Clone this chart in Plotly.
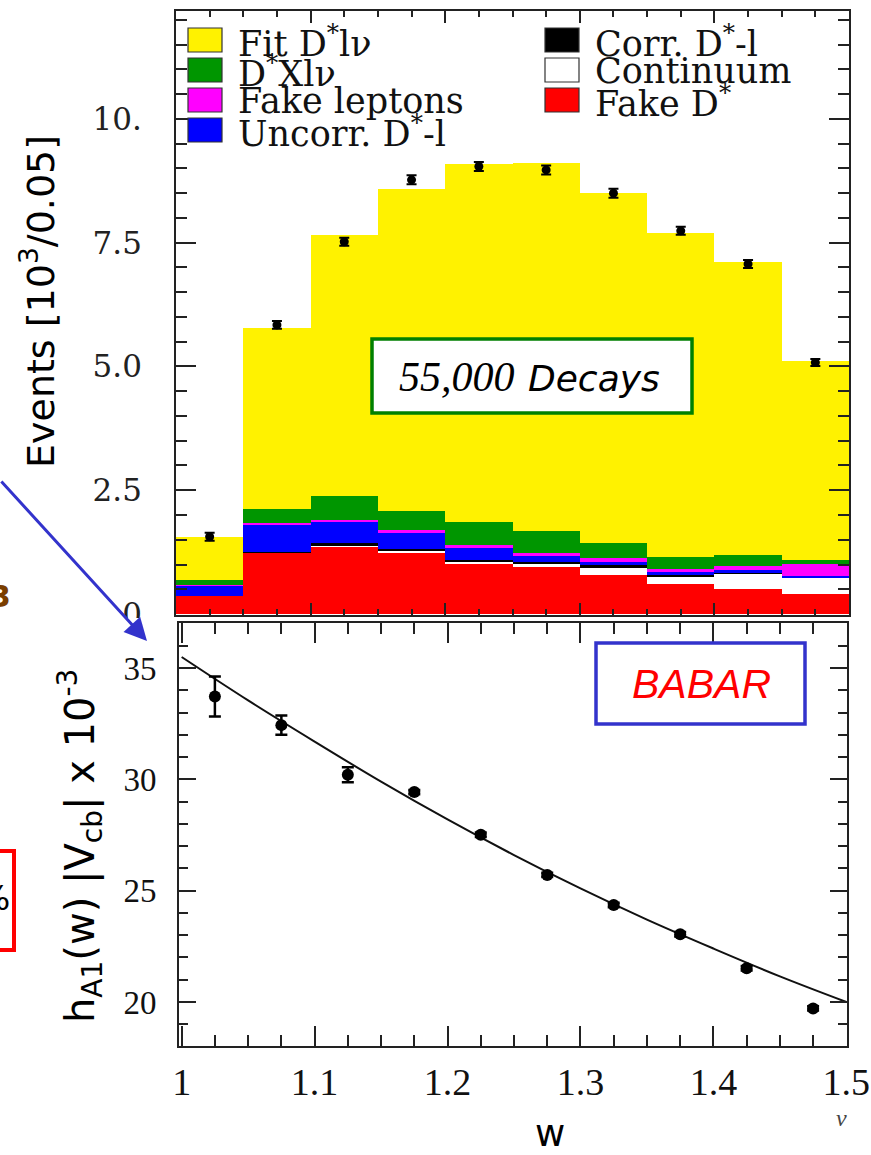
import plotly.graph_objects as go

W, H = 871, 1155

# ---------------- data: upper panel (events / 0.05 in w, units of 10^3) -------------
bin_centers = [1.025, 1.075, 1.125, 1.175, 1.225, 1.275, 1.325, 1.375, 1.425, 1.475]
fake_dstar = [0.36, 1.24, 1.36, 1.23, 1.01, 0.94, 0.79, 0.61, 0.51, 0.40]
continuum = [0.0, 0.0, 0.03, 0.05, 0.05, 0.07, 0.13, 0.14, 0.31, 0.33]
corr_dstar_l = [0.0, 0.02, 0.04, 0.04, 0.03, 0.05, 0.06, 0.03, 0.02, 0.01]
uncorr_dstar_l = [0.22, 0.55, 0.44, 0.32, 0.26, 0.13, 0.08, 0.07, 0.04, 0.03]
fake_leptons = [0.01, 0.02, 0.03, 0.05, 0.04, 0.04, 0.07, 0.06, 0.09, 0.24]
dstar_x_lnu = [0.09, 0.29, 0.48, 0.40, 0.47, 0.44, 0.30, 0.25, 0.22, 0.09]
fit_dstar_lnu = [0.88, 3.65, 5.27, 6.49, 7.22, 7.43, 7.07, 6.53, 5.92, 4.01]
data_events = [1.56, 5.84, 7.52, 8.77, 9.04, 8.97, 8.50, 7.74, 7.07, 5.08]
data_events_err = [0.08, 0.08, 0.08, 0.09, 0.09, 0.09, 0.09, 0.08, 0.08, 0.07]

# ---------------- data: lower panel (h_A1(w)|Vcb| x 10^-3) --------------------------
w_points = [1.025, 1.075, 1.125, 1.175, 1.225, 1.275, 1.325, 1.375, 1.425, 1.475]
hA1_vcb = [33.73, 32.44, 30.21, 29.43, 27.51, 25.71, 24.36, 23.04, 21.51, 19.71]
hA1_vcb_err = [0.90, 0.43, 0.34, 0.10, 0.10, 0.10, 0.10, 0.10, 0.10, 0.10]
w_fit = [1.0, 1.05, 1.1, 1.15, 1.2, 1.25, 1.3, 1.35, 1.4, 1.45, 1.5]
hA1_fit = [35.5, 33.55, 31.7, 29.9, 28.2, 26.6, 25.1, 23.7, 22.4, 21.15, 20.0]

# tick labels
top_y_ticks = [0, 2.5, 5.0, 7.5, 10.0]
top_y_ticktext = ["0", "2.5", "5.0", "7.5", "10."]
bot_x_ticks = [1.0, 1.1, 1.2, 1.3, 1.4, 1.5]
bot_x_ticktext = ["1", "1.1", "1.2", "1.3", "1.4", "1.5"]
bot_y_ticks = [20, 25, 30, 35]
bot_y_ticktext = ["20", "25", "30", "35"]

# legend entries (column-wise as in the original)
legend_names = ["Fit D<sup>*</sup>lν", "D<sup>*</sup>Xlν", "Fake leptons", "Uncorr. D<sup>*</sup>-l",
                "Corr. D<sup>*</sup>-l", "Continuum", "Fake D<sup>*</sup>"]
legend_colors = ["#FFF200", "#009600", "#FF00FF", "#0000FF", "#000000", "#FFFFFF", "#FF0000"]

stack_series = [
    ("Fake D*", fake_dstar, "#FF0000"),
    ("Continuum", continuum, "#FFFFFF"),
    ("Corr. D*-l", corr_dstar_l, "#000000"),
    ("Uncorr. D*-l", uncorr_dstar_l, "#0000FF"),
    ("Fake leptons", fake_leptons, "#FF00FF"),
    ("D*Xlν", dstar_x_lnu, "#009600"),
    ("Fit D*lν", fit_dstar_lnu, "#FFF200"),
]


def px(x):
    return x / W


def py(y):
    return 1 - y / H


fig = go.Figure()

for name, vals, col in stack_series:
    fig.add_trace(go.Bar(x=bin_centers, y=vals, width=0.05, name=name,
                         marker=dict(color=col, line=dict(width=0)),
                         xaxis="x", yaxis="y", showlegend=False))

fig.add_trace(go.Scatter(x=bin_centers, y=data_events, mode="markers",
                         marker=dict(color="black", size=9),
                         error_y=dict(type="data", array=data_events_err, color="black",
                                      thickness=2, width=5),
                         xaxis="x", yaxis="y", showlegend=False))

fig.add_trace(go.Scatter(x=w_fit, y=hA1_fit, mode="lines",
                         line=dict(color="#111111", width=2, shape="spline"),
                         xaxis="x2", yaxis="y2", showlegend=False))
fig.add_trace(go.Scatter(x=w_points, y=hA1_vcb, mode="markers",
                         marker=dict(color="black", size=12),
                         error_y=dict(type="data", array=hA1_vcb_err, color="black",
                                      thickness=2.5, width=6),
                         xaxis="x2", yaxis="y2", showlegend=False))

axcol = "#222222"
common = dict(showline=True, linecolor=axcol, linewidth=1.8, mirror="ticks", ticks="inside",
              tickcolor=axcol, showgrid=False, zeroline=False, automargin=False)

fig.update_layout(
    width=W, height=H, margin=dict(l=0, r=0, t=0, b=0, pad=0, autoexpand=False),
    paper_bgcolor="white", plot_bgcolor="white",
    barmode="stack", bargap=0, showlegend=False,
    xaxis=dict(domain=[px(176), px(849)], anchor="y", range=[1.0, 1.5],
               tick0=1.0, dtick=0.1, ticklen=12, tickwidth=1.5, showticklabels=False,
               minor=dict(dtick=0.025, ticklen=6, tickwidth=1.5, tickcolor=axcol, ticks="inside"),
               **common),
    yaxis=dict(domain=[py(615), py(11)], anchor="x", range=[-0.02, 12.18],
               tickvals=top_y_ticks, ticktext=top_y_ticktext, ticklen=20, tickwidth=1.5,
               tickfont=dict(family="DejaVu Serif", size=31, color="#222"),
               ticklabelstandoff=26,
               minor=dict(dtick=0.5, ticklen=11, tickwidth=1.5, tickcolor=axcol, ticks="inside"),
               **common),
    xaxis2=dict(domain=[px(179), px(847)], anchor="y2", range=[0.998, 1.5005],
                tickvals=bot_x_ticks, ticktext=bot_x_ticktext, ticklen=20, tickwidth=1.5,
                tickfont=dict(family="Liberation Serif", size=38, color="#111"),
                ticklabelstandoff=1,
                minor=dict(dtick=0.025, ticklen=11, tickwidth=1.5, tickcolor=axcol, ticks="inside"),
                **common),
    yaxis2=dict(domain=[py(1046), py(623)], anchor="x2", range=[18.02, 37.03],
                tickvals=bot_y_ticks, ticktext=bot_y_ticktext, ticklen=17, tickwidth=1.5,
                tickfont=dict(family="Liberation Serif", size=33, color="#111"),
                ticklabelstandoff=14,
                minor=dict(dtick=1, ticklen=9, tickwidth=1.5, tickcolor=axcol, ticks="inside"),
                **common),
)

shapes = []
annotations = []

# legend (boxes + labels)
col_x = [188, 545]
row_y = [40, 70, 100, 130]
for i, (nm, colr) in enumerate(zip(legend_names, legend_colors)):
    c, r = (0, i) if i < 4 else (1, i - 4)
    bx = col_x[c]
    by = row_y[r]
    shapes.append(dict(type="rect", xref="paper", yref="paper",
                       x0=px(bx), x1=px(bx + 34), y0=py(by + 12), y1=py(by - 12),
                       fillcolor=colr, line=dict(color="#333", width=1.2), layer="above"))
    annotations.append(dict(xref="paper", yref="paper", x=px(bx + 48), y=py(by + 1),
                            xanchor="left", yanchor="middle", showarrow=False, text=nm,
                            font=dict(family="DejaVu Serif", size=35, color="#111")))

# "55,000 Decays" box
shapes.append(dict(type="rect", xref="paper", yref="paper", x0=px(372), x1=px(692),
                   y0=py(413), y1=py(339), fillcolor="white",
                   line=dict(color="#008000", width=3.5), layer="above"))
annotations.append(dict(xref="paper", yref="paper", x=px(517), y=py(392), xanchor="right",
                        yanchor="bottom", showarrow=False, text="<i>55,000</i>",
                        font=dict(family="Liberation Serif", size=42, color="black"),
                        yshift=-10))
annotations.append(dict(xref="paper", yref="paper", x=px(526), y=py(392), xanchor="left",
                        yanchor="bottom", showarrow=False, text="<i>Decays</i>",
                        font=dict(family="DejaVu Sans", size=36, color="black"),
                        yshift=-9))

# BABAR box
shapes.append(dict(type="rect", xref="paper", yref="paper", x0=px(596), x1=px(805),
                   y0=py(724), y1=py(643), fillcolor="rgba(0,0,0,0)",
                   line=dict(color="#3333CC", width=3.5), layer="above"))
annotations.append(dict(xref="paper", yref="paper", x=px(701), y=py(684), xanchor="center",
                        yanchor="middle", showarrow=False, text="<i>BABAR</i>",
                        font=dict(family="Liberation Sans", size=41, color="#FF0000")))

# axis titles
annotations.append(dict(xref="paper", yref="paper", x=px(38), y=py(302), xanchor="center",
                        yanchor="middle", showarrow=False, textangle=-90,
                        text="Events [10<sup>3</sup>/0.05]",
                        font=dict(family="DejaVu Sans", size=38, color="black")))
annotations.append(dict(xref="paper", yref="paper", x=px(80), y=py(846), xanchor="center",
                        yanchor="middle", showarrow=False, textangle=-90,
                        text="h<sub>A1</sub>(w) |V<sub>cb</sub>| x 10<sup>-3</sup>",
                        font=dict(family="DejaVu Sans", size=40, color="black")))
annotations.append(dict(xref="paper", yref="paper", x=px(550), y=py(1133), xanchor="center",
                        yanchor="middle", showarrow=False, text="w",
                        font=dict(family="DejaVu Sans", size=37, color="black")))
annotations.append(dict(xref="paper", yref="paper", x=px(841), y=py(1118), xanchor="center",
                        yanchor="middle", showarrow=False, text="<i>v</i>",
                        font=dict(family="Liberation Serif", size=24, color="#444")))

# mask hiding the lower half of the "0" label (as in the original cut-out)
shapes.append(dict(type="rect", xref="paper", yref="paper", x0=px(100), x1=px(174),
                   y0=py(642), y1=py(618), fillcolor="white", line=dict(width=0), layer="above"))

# slide remnants on the left
annotations.append(dict(xref="paper", yref="paper", x=px(147), y=py(641), ax=-200, ay=-161,
                        showarrow=True, arrowhead=2, arrowsize=1.5, arrowwidth=3,
                        arrowcolor="#3333CC", text=""))
annotations.append(dict(xref="paper", yref="paper", x=px(13), y=py(596), xanchor="right",
                        yanchor="middle", showarrow=False, text="<b>3</b>",
                        font=dict(family="DejaVu Sans", size=30, color="#7A3E00")))
shapes.append(dict(type="rect", xref="paper", yref="paper", x0=px(-20), x1=px(14),
                   y0=py(950), y1=py(851), fillcolor="rgba(0,0,0,0)",
                   line=dict(color="#FF0000", width=4), layer="above"))
annotations.append(dict(xref="paper", yref="paper", x=px(12), y=py(898), xanchor="right",
                        yanchor="middle", showarrow=False, text="%",
                        font=dict(family="DejaVu Sans", size=34, color="black")))

fig.update_layout(shapes=shapes, annotations=annotations)

fig.write_html("out.html")
